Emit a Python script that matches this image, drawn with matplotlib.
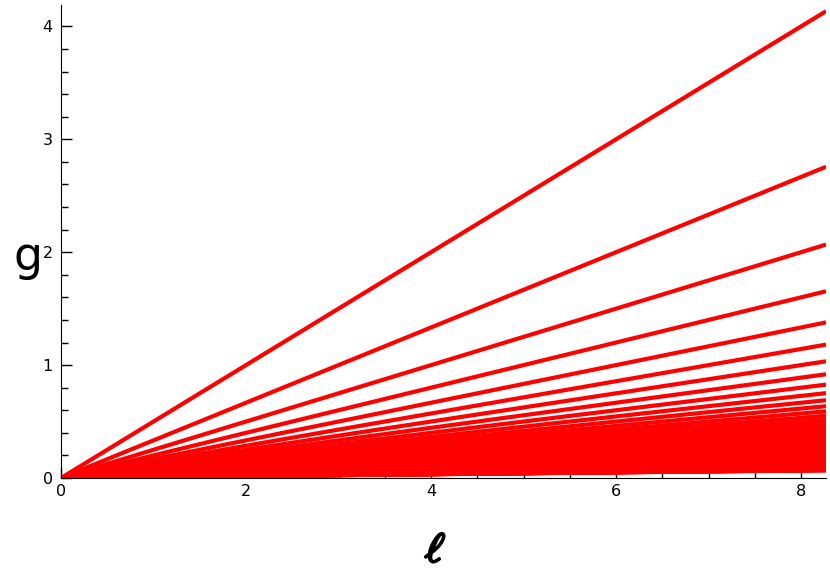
import matplotlib.pyplot as plt
import matplotlib.patheffects as pe
from matplotlib.ticker import MultipleLocator

# lines g = l / n, one per denominator n
denominators = [
    2, 3, 4, 5, 6, 7, 8, 9, 10, 11, 12, 13, 14, 15, 16, 17, 18, 19, 20,
    21, 22, 23, 24, 25, 26, 27, 28, 29, 30, 31, 32, 33, 34, 35, 36, 37, 38, 39, 40,
    41, 42, 43, 44, 45, 46, 47, 48, 49, 50, 51, 52, 53, 54, 55, 56, 57, 58, 59, 60,
    61, 62, 63, 64, 65, 66, 67, 68, 69, 70, 71, 72, 73, 74, 75, 76, 77, 78, 79, 80,
    81, 82, 83, 84, 85, 86, 87, 88, 89, 90, 91, 92, 93, 94, 95, 96, 97, 98, 99, 100,
    101, 102, 103, 104, 105, 106, 107, 108, 109, 110, 111, 112, 113, 114, 115, 116,
    117, 118, 119, 120,
]
l_range = [0.0, 8.27]

fig = plt.figure(figsize=(8.3, 5.88), dpi=100)
ax = fig.add_axes([61 / 830, 110 / 588, 765 / 830, 473 / 588])

for n in denominators:
    ax.plot(l_range, [l_range[0] / n, l_range[1] / n], color='red', lw=3.0,
            solid_capstyle='butt')

ax.set_xlim(l_range)
ax.set_ylim(0, 4.19)

ax.spines['top'].set_visible(False)
ax.spines['right'].set_visible(False)
ax.xaxis.set_major_locator(MultipleLocator(2))
ax.xaxis.set_minor_locator(MultipleLocator(0.5))
ax.yaxis.set_major_locator(MultipleLocator(1))
ax.yaxis.set_minor_locator(MultipleLocator(0.2))
ax.tick_params(which='both', direction='in', width=1, labelsize=11.5, pad=4)
ax.tick_params(which='major', length=8)
ax.tick_params(which='minor', length=5)
ax.tick_params(axis='y', pad=6)

fig.text(28 / 830, 1 - 258 / 588, 'g', fontsize=33, ha='center', va='center')
fig.text(435 / 830, 1 - 550 / 588, r'$\ell$', fontsize=30, ha='center', va='center',
         math_fontfamily='cm', rotation=-8,
         path_effects=[pe.withStroke(linewidth=1.8, foreground='black')])

fig.savefig('out.png', dpi=100)
